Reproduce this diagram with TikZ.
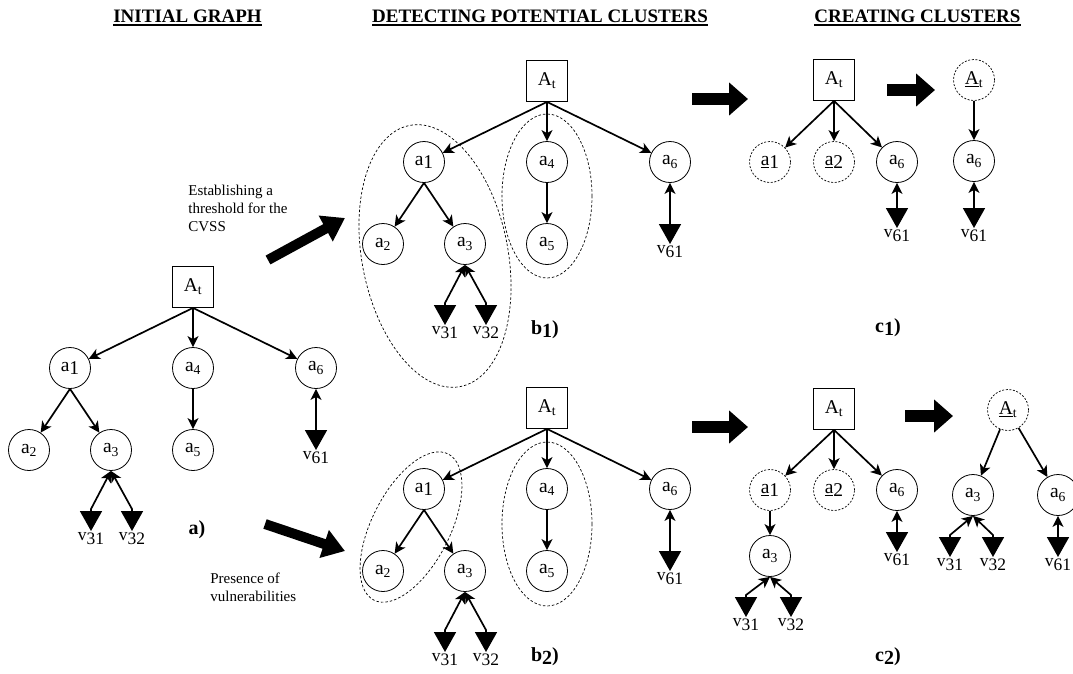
\documentclass[tikz,border=0pt]{standalone}
\usepackage{fontspec}
\setmainfont{Liberation Serif}
\usetikzlibrary{arrows.meta}
\tikzset{
    every node/.style={circle, inner sep=0pt, draw, line width=0.8pt, minimum size=41pt, font=\fontsize{19.5}{21}\selectfont}
}
\tikzset{
    root/.style={shape=rectangle},
    gone/.style={dash pattern=on 2pt off 1.6pt, line width=0.7pt},
    txt/.style={shape=rectangle, draw=none, minimum size=0pt, inner sep=0pt},
    vul/.style={txt, inner sep=1.5pt, anchor=north, font=\fontsize{17.5}{19}\selectfont},
    head/.style={txt, font=\bfseries\fontsize{19}{21}\selectfont},
    sub/.style={txt, font=\bfseries\fontsize{20}{22}\selectfont},
    note/.style={txt, anchor=west, align=left, font=\fontsize{15}{18}\selectfont},
    link/.style={line width=1.7pt, -{Stealth[length=11pt, width=11pt, inset=3pt]}},
    vlink/.style={line width=1.7pt, {Stealth[length=11pt, width=11pt, inset=3pt]}-{Triangle[length=20pt, width=22pt]}},
    cluster/.style={dash pattern=on 2.5pt off 2pt, line width=0.7pt},
    bigarrow/.style={line width=10pt, -{Triangle[length=22pt, width=28pt]}},
    sidearrow/.style={line width=12pt, -{Triangle[length=19pt, width=32pt]}}
}
\newcommand{\headline}[1]{\setbox0\hbox{#1}\rlap{\copy0}\rule[-3pt]{\wd0}{1.6pt}}
\newcommand{\vname}[1]{\raisebox{.22em}{v}#1}
\newcommand{\aname}[1]{\raisebox{.15em}{a}#1}
\newcommand{\uname}[1]{\raisebox{.15em}{\underline{a}}#1}

\begin{document}
\begin{tikzpicture}[x=1pt, y=-1pt]
    \useasboundingbox (0,0) rectangle (1073,673);

    \node (h1) [head] at (187.5,18) {\headline{INITIAL GRAPH}};
    \node (h2) [head] at (540,18) {\headline{DETECTING POTENTIAL CLUSTERS}};
    \node (h3) [head] at (917.5,18) {\headline{CREATING CLUSTERS}};

    \node (At) [root] at (193,287) {A\textsubscript{t}};
    \node (a1) at (70,368) {\aname{1}};
    \node (a4) at (193,368) {a\textsubscript{4}};
    \node (a6) at (316,368) {a\textsubscript{6}};
    \node (a2) at (29,450) {a\textsubscript{2}};
    \node (a3) at (111,450) {a\textsubscript{3}};
    \node (a5) at (193,450) {a\textsubscript{5}};
    \node (v31) [vul] at (91,531) {\vname{31}};
    \node (v32) [vul] at (132,531) {\vname{32}};
    \node (v61) [vul] at (316,450) {\vname{61}};
    \node (la) [sub] at (197,530) {a)};

    \draw[link] (At.south) -- (a1);
    \draw[link] (At.south) -- (a4);
    \draw[link] (At.south) -- (a6);
    \draw[link] (a1.south) -- (a2);
    \draw[link] (a1.south) -- (a3);
    \draw[link] (a4) -- (a5);
    \draw[vlink] (a3.south) -- ([yshift=22pt]v31.north) -- (v31.north);
    \draw[vlink] (a3.south) -- ([yshift=22pt]v32.north) -- (v32.north);
    \draw[vlink] (a6.south) -- ([yshift=22pt]v61.north) -- (v61.north);

    \node (thr) [note] at (188,208) {Establishing a\\threshold for the\\CVSS};
    \node (pres) [note] at (210,587) {Presence of\\vulnerabilities};
    \draw[bigarrow] (268,260) -- (345,218);
    \draw[bigarrow] (265,524) -- (345,551);

    \node (Atb) [root] at (547,81) {A\textsubscript{t}};
    \node (a1b) at (424,162) {\aname{1}};
    \node (a4b) at (547,162) {a\textsubscript{4}};
    \node (a6b) at (670,162) {a\textsubscript{6}};
    \node (a2b) at (383,244) {a\textsubscript{2}};
    \node (a3b) at (465,244) {a\textsubscript{3}};
    \node (a5b) at (547,244) {a\textsubscript{5}};
    \node (v31b) [vul] at (445,325) {\vname{31}};
    \node (v32b) [vul] at (486,325) {\vname{32}};
    \node (v61b) [vul] at (670,244) {\vname{61}};
    \node (lb) [sub] at (545,330) {b\raisebox{-3pt}{1})};

    \draw[link] (Atb.south) -- (a1b);
    \draw[link] (Atb.south) -- (a4b);
    \draw[link] (Atb.south) -- (a6b);
    \draw[link] (a1b.south) -- (a2b);
    \draw[link] (a1b.south) -- (a3b);
    \draw[link] (a4b) -- (a5b);
    \draw[vlink] (a3b.south) -- ([yshift=22pt]v31b.north) -- (v31b.north);
    \draw[vlink] (a3b.south) -- ([yshift=22pt]v32b.north) -- (v32b.north);
    \draw[vlink] (a6b.south) -- ([yshift=22pt]v61b.north) -- (v61b.north);
    \draw[cluster, rotate around={11:(435,256)}] (435,256) ellipse (73pt and 133pt);
    \draw[cluster] (547,196) ellipse (45pt and 82pt);

    \node (Atbb) [root] at (547,408) {A\textsubscript{t}};
    \node (a1bb) at (424,489) {\aname{1}};
    \node (a4bb) at (547,489) {a\textsubscript{4}};
    \node (a6bb) at (670,489) {a\textsubscript{6}};
    \node (a2bb) at (383,571) {a\textsubscript{2}};
    \node (a3bb) at (465,571) {a\textsubscript{3}};
    \node (a5bb) at (547,571) {a\textsubscript{5}};
    \node (v31bb) [vul] at (445,652) {\vname{31}};
    \node (v32bb) [vul] at (486,652) {\vname{32}};
    \node (v61bb) [vul] at (670,571) {\vname{61}};
    \node (lbb) [sub] at (545,657) {b\raisebox{-3pt}{2})};

    \draw[link] (Atbb.south) -- (a1bb);
    \draw[link] (Atbb.south) -- (a4bb);
    \draw[link] (Atbb.south) -- (a6bb);
    \draw[link] (a1bb.south) -- (a2bb);
    \draw[link] (a1bb.south) -- (a3bb);
    \draw[link] (a4bb) -- (a5bb);
    \draw[vlink] (a3bb.south) -- ([yshift=22pt]v31bb.north) -- (v31bb.north);
    \draw[vlink] (a3bb.south) -- ([yshift=22pt]v32bb.north) -- (v32bb.north);
    \draw[vlink] (a6bb.south) -- ([yshift=22pt]v61bb.north) -- (v61bb.north);
    \draw[cluster, rotate around={-27:(411,527)}] (411,527) ellipse (39pt and 82pt);
    \draw[cluster] (547,524) ellipse (45pt and 82pt);

    \draw[sidearrow] (692,99) -- (748,99);
    \node (Atc) [root] at (834,80) {A\textsubscript{t}};
    \node (a1c) [gone] at (770,162) {\uname{1}};
    \node (a2c) [gone] at (834,162) {\uname{2}};
    \node (a6c) at (897,162) {a\textsubscript{6}};
    \node (v61c) [vul] at (897,228) {\vname{61}};
    \node (lc) [sub] at (888,328) {c\raisebox{-3pt}{1})};
    \draw[link] (Atc.south) -- (a1c);
    \draw[link] (Atc.south) -- (a2c);
    \draw[link] (Atc.south) -- (a6c);
    \draw[vlink] (a6c.south) -- ([yshift=22pt]v61c.north) -- (v61c.north);

    \draw[sidearrow] (887,90) -- (935,90);
    \node (Atcr) [gone] at (974,80) {\underline{A}\textsubscript{t}};
    \node (a6cr) at (974,161) {a\textsubscript{6}};
    \node (v61cr) [vul] at (974,228) {\vname{61}};
    \draw[link] (Atcr) -- (a6cr);
    \draw[vlink] (a6cr.south) -- ([yshift=22pt]v61cr.north) -- (v61cr.north);

    \draw[sidearrow] (692,427) -- (748,427);
    \node (Atcc) [root] at (834,409) {A\textsubscript{t}};
    \node (a1cc) [gone] at (770,490) {\uname{1}};
    \node (a2cc) [gone] at (834,490) {\uname{2}};
    \node (a6cc) at (897,490) {a\textsubscript{6}};
    \node (a3cc) at (770,556) {a\textsubscript{3}};
    \node (v31cc) [vul] at (746,617) {\vname{31}};
    \node (v32cc) [vul] at (791,617) {\vname{32}};
    \node (v61cc) [vul] at (897,552) {\vname{61}};
    \node (lcc) [sub] at (888,657) {c\raisebox{-3pt}{2})};
    \draw[link] (Atcc.south) -- (a1cc);
    \draw[link] (Atcc.south) -- (a2cc);
    \draw[link] (Atcc.south) -- (a6cc);
    \draw[link] (a1cc) -- (a3cc);
    \draw[vlink] (a3cc.south) -- ([yshift=22pt]v31cc.north) -- (v31cc.north);
    \draw[vlink] (a3cc.south) -- ([yshift=22pt]v32cc.north) -- (v32cc.north);
    \draw[vlink] (a6cc.south) -- ([yshift=22pt]v61cc.north) -- (v61cc.north);

    \draw[sidearrow] (905,416) -- (953,416);
    \node (Atccr) [gone] at (1008,410) {\underline{A}\textsubscript{t}};
    \node (a3ccr) at (973,495) {a\textsubscript{3}};
    \node (a6ccr) at (1058,495) {a\textsubscript{6}};
    \node (v31ccr) [vul] at (950,557) {\vname{31}};
    \node (v32ccr) [vul] at (993,557) {\vname{32}};
    \node (v61ccr) [vul] at (1058,557) {\vname{61}};
    \draw[link] (Atccr) -- (a3ccr);
    \draw[link] (Atccr) -- (a6ccr);
    \draw[vlink] (a3ccr.south) -- ([yshift=22pt]v31ccr.north) -- (v31ccr.north);
    \draw[vlink] (a3ccr.south) -- ([yshift=22pt]v32ccr.north) -- (v32ccr.north);
    \draw[vlink] (a6ccr.south) -- ([yshift=22pt]v61ccr.north) -- (v61ccr.north);
\end{tikzpicture}
\end{document}
